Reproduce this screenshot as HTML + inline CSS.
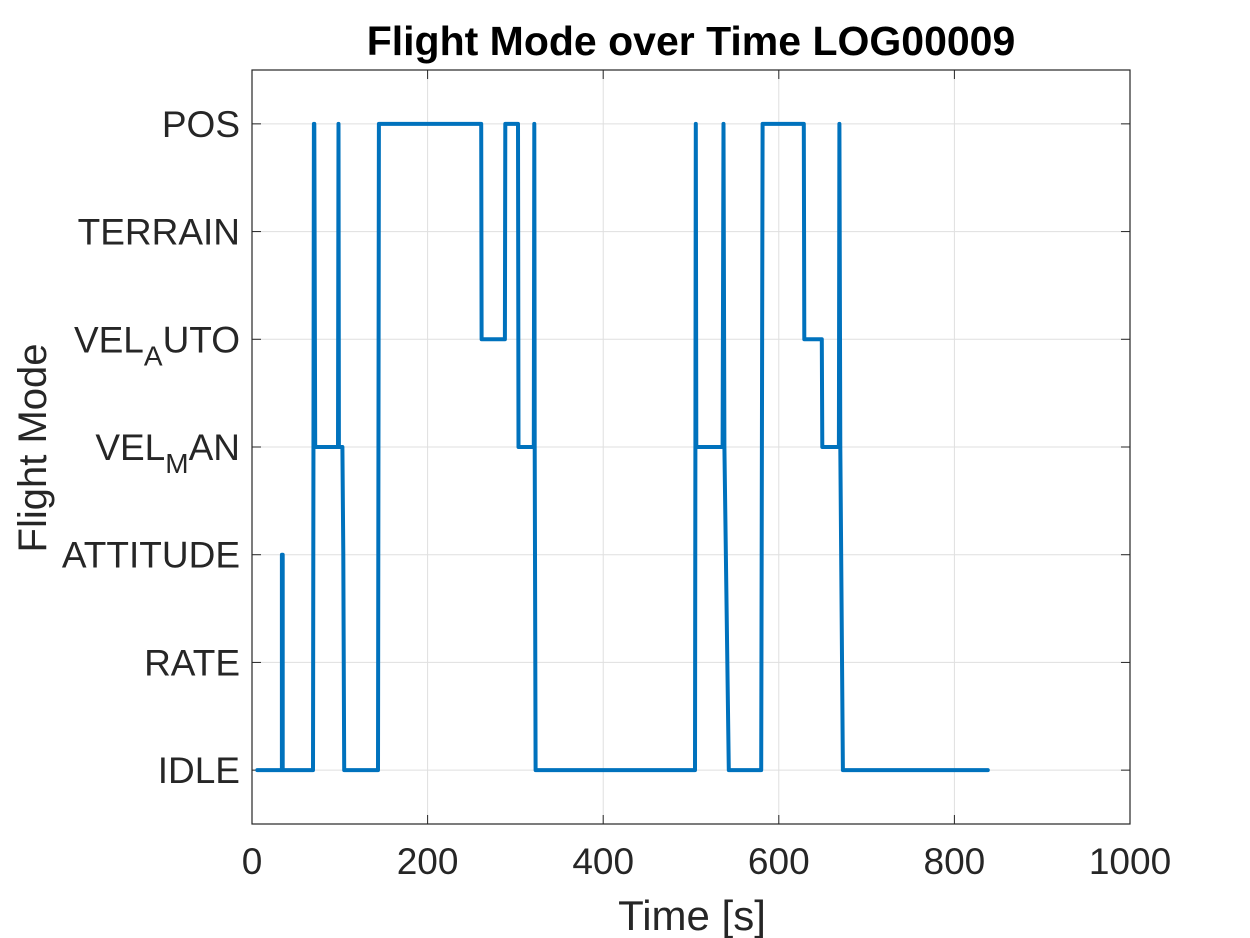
<!DOCTYPE html>
<html><head><meta charset="utf-8"><style>
body{margin:0;background:#fff;}
svg{display:block;font-family:"Liberation Sans",Arial,sans-serif;}
</style></head><body>
<svg id="chart" width="1250" height="938" viewBox="0 0 1250 938">
<rect x="0" y="0" width="1250" height="938" fill="#fff"/>
<text x="691" y="55" text-anchor="middle" font-size="41" font-weight="bold" fill="#000">Flight Mode over Time LOG00009</text>
<g id="grid"></g>
<g id="axes"></g>
<g id="series"></g>
<text x="692" y="930" text-anchor="middle" font-size="42" fill="#262626">Time [s]</text>
<text transform="translate(46,448) rotate(-90)" text-anchor="middle" font-size="40" fill="#262626">Flight Mode</text>
</svg>
<script>
const xTicks=[0,200,400,600,800,1000];
const yTickLabels=["IDLE","RATE","ATTITUDE","VEL_MAN","VEL_AUTO","TERRAIN","POS"];
// step series: [time, mode] pairs
const times=[6,34,34,35,35,69.5,70.5,71,72,98,98.5,99,103,104,105,143.5,144.5,261,261.5,288,288.5,303,303.5,321,321.5,322,323,504.5,505.5,506,507,536,537,538,543,580,581.5,628.5,629,649,649.5,668.5,669,670,673,838];
const modes=[0,0,2,2,0,0,6,6,3,3,6,3,3,2,0,0,6,6,4,4,6,6,3,3,6,3,0,0,6,3,3,3,6,3,0,0,6,6,4,4,3,3,6,3,0,0];
const L=252,R=1130,T=70,B=824,xMin=0,xMax=1000,yMin=-0.5,yMax=6.5;
const sx=v=>L+(v-xMin)/(xMax-xMin)*(R-L);
const sy=v=>B-(v-yMin)/(yMax-yMin)*(B-T);
const NS="http://www.w3.org/2000/svg";
function mk(tag,attrs,parent){const e=document.createElementNS(NS,tag);for(const k in attrs)e.setAttribute(k,attrs[k]);parent.appendChild(e);return e;}
const grid=document.getElementById('grid'),axes=document.getElementById('axes'),series=document.getElementById('series');
xTicks.forEach(t=>{
 const g=mk('line',{x1:sx(t),x2:sx(t),y1:T,y2:B,stroke:'#dfdfdf','stroke-width':1},grid);
 
 
 const tk=mk('line',{x1:sx(t),x2:sx(t),y1:B,y2:B-9,stroke:'#262626','stroke-width':1},axes);
 
 
 const tk2=mk('line',{x1:sx(t),x2:sx(t),y1:T,y2:T+9,stroke:'#262626','stroke-width':1},axes);
 
 
 const tx=mk('text',{x:sx(t),y:B+50,'text-anchor':'middle','font-size':37,fill:'#262626'},axes);
 tx.textContent=t;
 
 
});
yTickLabels.forEach((lab,i)=>{
 const y=sy(i);
 const g=mk('line',{x1:L,x2:R,y1:y,y2:y,stroke:'#dfdfdf','stroke-width':1},grid);
 
 
 const tk=mk('line',{x1:L,x2:L+9,y1:y,y2:y,stroke:'#262626','stroke-width':1},axes);
 
 
 const tk2=mk('line',{x1:R,x2:R-9,y1:y,y2:y,stroke:'#262626','stroke-width':1},axes);
 
 
 const tx=mk('text',{x:L-12,y:y+13,'text-anchor':'end','font-size':37,fill:'#262626'},axes);
 const parts=lab.split('_');
 if(parts.length===2){
  tx.appendChild(document.createTextNode(parts[0]));
  const sub=mk('tspan',{dy:13,'font-size':28},tx);
  sub.textContent=parts[1].charAt(0);
  const rest=mk('tspan',{dy:-13},tx);
  rest.textContent=parts[1].slice(1);
 } else tx.textContent=lab;
 
 
});
const box=mk('rect',{x:L,y:T,width:R-L,height:B-T,fill:'none',stroke:'#262626','stroke-width':1.2},axes);


const pts=times.map((t,i)=>sx(t).toFixed(1)+','+sy(modes[i]).toFixed(1)).join(' ');
const line=mk('polyline',{points:pts,fill:'none',stroke:'#0072bd','stroke-width':4,'stroke-linejoin':'round','stroke-linecap':'round'},series);


</script>
</body></html>
